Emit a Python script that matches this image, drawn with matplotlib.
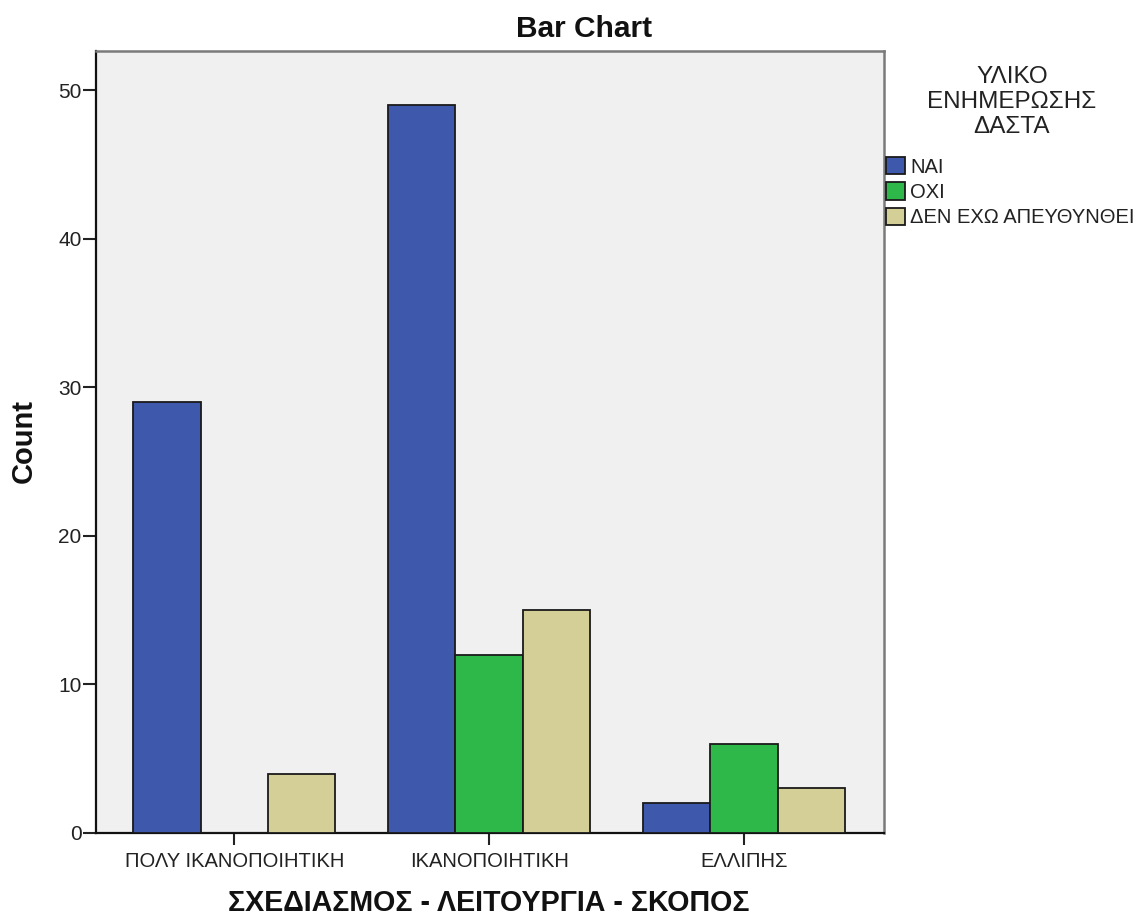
import matplotlib
matplotlib.use("Agg")
import matplotlib.pyplot as plt
import numpy as np

categories = ["ΠΟΛΥ ΙΚΑΝΟΠΟΙΗΤΙΚΗ", "ΙΚΑΝΟΠΟΙΗΤΙΚΗ", "ΕΛΛΙΠΗΣ"]
series_names = ["ΝΑΙ", "ΟΧΙ", "ΔΕΝ ΕΧΩ ΑΠΕΥΘΥΝΘΕΙ"]
nai = [29, 49, 2]
oxi = [0, 12, 6]
den = [4, 15, 3]
colors = ["#3E58AC", "#2FB84A", "#D3CF97"]
yticks = [0, 10, 20, 30, 40, 50]

plt.rcParams['font.family'] = ['Liberation Sans', 'DejaVu Sans']

fig = plt.figure(figsize=(11.4, 9.18), dpi=100)
W, H = 1140, 918
left, right, top, bottom = 96, 884, 51, 833
ax = fig.add_axes([left / W, 1 - bottom / H, (right - left) / W, (bottom - top) / H])
ax.set_facecolor("#F0F0F0")

x = np.arange(len(categories))
bw = 0.264
for i, (vals, name, c) in enumerate(zip([nai, oxi, den], series_names, colors)):
    ax.bar(x + (i - 1) * bw, vals, width=bw, color=c, edgecolor="#1a1a1a",
           linewidth=1.3, label=name, zorder=3)

ax.set_xlim(-0.543, 2.55)
ax.set_ylim(0, 52.65)
ax.set_yticks(yticks)
ax.set_xticks(x)
ax.set_xticklabels(categories, fontsize=14.5, color="#222222")
ax.tick_params(axis='y', labelsize=15, length=9.5, width=1.5, colors="#222222", pad=1)
ax.tick_params(axis='x', length=8.5, width=1.5, colors="#222222", pad=5.5)

for s in ["left", "bottom"]:
    ax.spines[s].set_color("#111111")
    ax.spines[s].set_linewidth(1.6)
for s in ["top", "right"]:
    ax.spines[s].set_color("#7a7a7a")
    ax.spines[s].set_linewidth(1.8)

fig.text(584 / W, 1 - 37 / H, "Bar Chart", ha="center", va="baseline",
         fontsize=21.5, fontweight="bold", color="#111111")
fig.text(24 / W, 1 - 441 / H, "Count", ha="center", va="center", rotation=90,
         fontsize=21, fontweight="bold", color="#111111")
fig.text(489 / W, 1 - 911 / H, "ΣΧΕΔΙΑΣΜΟΣ - ΛΕΙΤΟΥΡΓΙΑ - ΣΚΟΠΟΣ", ha="center",
         va="baseline", fontsize=20.6, fontweight="bold", color="#111111")

fig.text(1012 / W, 1 - 102 / H, "ΥΛΙΚΟ\nΕΝΗΜΕΡΩΣΗΣ\nΔΑΣΤΑ", ha="center", va="center",
         multialignment="center", fontsize=17.5, linespacing=1.15, color="#222222")

leg = fig.legend(loc="upper left", bbox_to_anchor=(886 / W, 1 - 157 / H),
                 frameon=False, fontsize=14.5,
                 handlelength=0.95, handleheight=0.95,
                 handletextpad=0.25, labelspacing=0.285, borderpad=0,
                 borderaxespad=0)
for t in leg.get_texts():
    t.set_color("#222222")

fig.savefig("out.png", dpi=100)
